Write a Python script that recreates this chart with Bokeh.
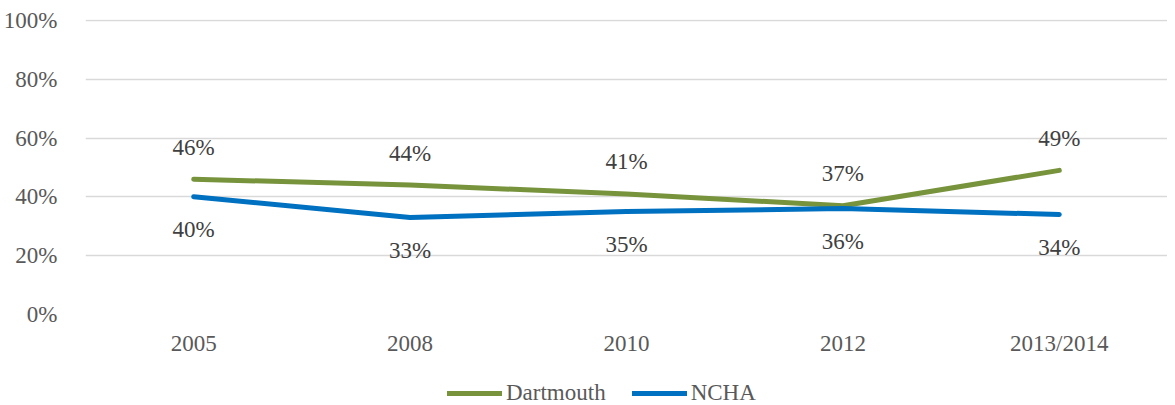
from bokeh.plotting import figure
from bokeh.layouts import column
from bokeh.models import (ColumnDataSource, FactorRange, Range1d, FixedTicker,
                          NumeralTickFormatter, Legend, LegendItem, LabelSet)
from bokeh.embed import file_html
from bokeh.resources import INLINE

years = ["2005", "2008", "2010", "2012", "2013/2014"]
dartmouth = [0.46, 0.44, 0.41, 0.37, 0.49]
ncha = [0.40, 0.33, 0.35, 0.36, 0.34]
y_ticks = [0, 0.2, 0.4, 0.6, 0.8, 1.0]
series_names = ["Dartmouth", "NCHA"]

GREEN = "#77933C"
BLUE = "#0070C0"
FONT = "'Liberation Serif', 'Times New Roman', serif"
FS = "23px"

src = ColumnDataSource(dict(
    x=years, d=dartmouth, n=ncha,
    dl=[f"{round(v*100)}%" for v in dartmouth],
    nl=[f"{round(v*100)}%" for v in ncha],
))

p = figure(width=1167, height=358, x_range=FactorRange(*years),
           y_range=Range1d(0, 1.003), output_backend="svg", toolbar_location=None,
           min_border_left=74, min_border_right=0, min_border_top=19,
           min_border_bottom=42)
p.outline_line_color = None
p.background_fill_color = "white"

p.xgrid.grid_line_color = None
p.ygrid.grid_line_color = "#D9D9D9"
p.ygrid.grid_line_width = 1.5
p.yaxis.ticker = FixedTicker(ticks=y_ticks)
p.yaxis.formatter = NumeralTickFormatter(format="0%")

for ax in (p.xaxis[0], p.yaxis[0]):
    ax.axis_line_color = None
    ax.major_tick_line_color = None
    ax.minor_tick_line_color = None
    ax.major_label_text_font = FONT
    ax.major_label_text_font_size = FS
    ax.major_label_text_color = "#595959"
p.yaxis.major_label_standoff = 22
p.xaxis.major_label_standoff = 10

p.line("x", "d", source=src, line_color=GREEN, line_width=5, line_cap="round", line_join="round")
p.line("x", "n", source=src, line_color=BLUE, line_width=5, line_cap="round", line_join="round")

p.add_layout(LabelSet(x="x", y="d", text="dl", source=src, y_offset=32,
                      text_align="center", text_baseline="middle",
                      text_font=FONT, text_font_size=FS, text_color="#404040"))
p.add_layout(LabelSet(x="x", y="n", text="nl", source=src, y_offset=-33,
                      text_align="center", text_baseline="middle",
                      text_font=FONT, text_font_size=FS, text_color="#404040"))

# legend strip (its lines lie outside the visible range; only the legend shows)
pl = figure(width=1167, height=47, x_range=Range1d(0, 1), y_range=Range1d(0, 1),
            output_backend="svg", toolbar_location=None,
            min_border_left=0, min_border_right=0, min_border_top=0, min_border_bottom=0)
pl.axis.visible = False
pl.grid.visible = False
pl.outline_line_color = None
ld = pl.line(x=[-10, -9], y=[-10, -9], line_color=GREEN, line_width=5, line_cap="round")
ln = pl.line(x=[-10, -9], y=[-10, -9], line_color=BLUE, line_width=5, line_cap="round")
legend = Legend(items=[LegendItem(label=series_names[0], renderers=[ld]),
                       LegendItem(label=series_names[1], renderers=[ln])],
                orientation="horizontal", location=(362, -1),
                glyph_width=55, glyph_height=20, label_standoff=4, spacing=26,
                label_text_font=FONT, label_text_font_size=FS,
                label_text_color="#595959", border_line_color=None,
                background_fill_alpha=0, padding=0, margin=0)
pl.add_layout(legend)

layout = column(p, pl, spacing=0)
open("out.html", "w").write(file_html(layout, INLINE))
